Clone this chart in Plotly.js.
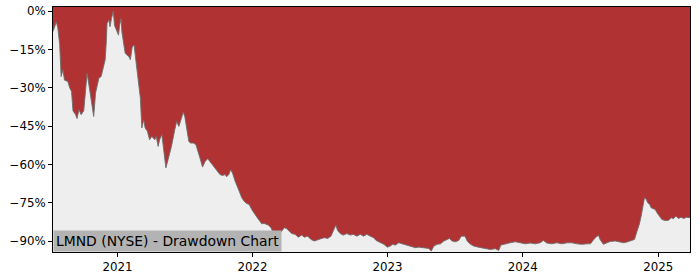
<!DOCTYPE html>
<html>
<head>
<meta charset="utf-8">
<script src="https://cdn.plot.ly/plotly-3.0.1.min.js"></script>
<style>html,body{margin:0;padding:0;background:#fff;}#chart{width:700px;height:280px;}</style>
</head>
<body>
<div id="chart"></div>
<script>
const dates = [
"2020-07-11","2020-07-20","2020-07-24","2020-07-29","2020-08-02","2020-08-07","2020-08-11","2020-08-20","2020-08-25","2020-08-30",
"2020-09-03","2020-09-10","2020-09-14","2020-09-19","2020-09-25","2020-10-02","2020-10-06","2020-10-11","2020-10-16","2020-10-22",
"2020-10-29","2020-11-03","2020-11-07","2020-11-12","2020-11-18","2020-11-25","2020-11-29","2020-12-02","2020-12-04","2020-12-09",
"2020-12-12","2020-12-16","2020-12-21","2020-12-24","2020-12-29","2021-01-04","2021-01-07","2021-01-11","2021-01-13","2021-01-18",
"2021-01-22","2021-01-27","2021-02-01","2021-02-05","2021-02-10","2021-02-15","2021-02-19","2021-02-25","2021-03-04","2021-03-08",
"2021-03-13","2021-03-17","2021-03-23","2021-03-29","2021-04-04","2021-04-12","2021-04-16","2021-04-21","2021-04-25","2021-05-01",
"2021-05-05","2021-05-12","2021-05-18","2021-05-27","2021-06-05","2021-06-10","2021-06-16","2021-06-22","2021-06-28","2021-07-02",
"2021-07-07","2021-07-13","2021-07-18","2021-07-25","2021-08-01","2021-08-06","2021-08-12","2021-08-19","2021-08-26","2021-09-02",
"2021-09-08","2021-09-15","2021-09-22","2021-09-28","2021-10-05","2021-10-12","2021-10-19","2021-10-23","2021-10-29","2021-11-03",
"2021-11-08","2021-11-15","2021-11-21","2021-11-26","2021-12-03","2021-12-09","2021-12-16","2021-12-23","2021-12-30","2022-01-05",
"2022-01-12","2022-01-19","2022-01-26","2022-02-01","2022-02-08","2022-02-13","2022-02-20","2022-02-26","2022-03-07","2022-03-14",
"2022-03-21","2022-03-28","2022-04-03","2022-04-10","2022-04-17","2022-04-26","2022-05-05","2022-05-14","2022-05-21","2022-05-30",
"2022-06-08","2022-06-17","2022-06-26","2022-07-05","2022-07-14","2022-07-23","2022-08-01","2022-08-07","2022-08-14","2022-08-19",
"2022-08-26","2022-09-03","2022-09-13","2022-09-22","2022-09-30","2022-10-10","2022-10-19","2022-10-28","2022-11-06","2022-11-15",
"2022-11-24","2022-12-01","2022-12-12","2022-12-22","2022-12-31","2023-01-08","2023-01-15","2023-01-22","2023-01-31","2023-02-09",
"2023-02-18","2023-02-27","2023-03-08","2023-03-17","2023-03-26","2023-04-04","2023-04-13","2023-04-22","2023-04-29","2023-05-06",
"2023-05-15","2023-05-24","2023-06-02","2023-06-11","2023-06-17","2023-06-24","2023-07-03","2023-07-12","2023-07-19","2023-07-29",
"2023-08-04","2023-08-13","2023-08-22","2023-09-03","2023-09-12","2023-09-22","2023-10-05","2023-10-19","2023-10-28","2023-11-03",
"2023-11-15","2023-11-28","2023-12-12","2023-12-26","2024-01-08","2024-01-21","2024-02-04","2024-02-17","2024-02-26","2024-03-06",
"2024-03-20","2024-04-02","2024-04-16","2024-04-30","2024-05-13","2024-05-26","2024-06-09","2024-06-23","2024-07-02","2024-07-10",
"2024-07-18","2024-07-24","2024-07-28","2024-08-06","2024-08-16","2024-08-24","2024-09-07","2024-09-21","2024-09-30","2024-10-09",
"2024-10-18","2024-10-29","2024-11-05","2024-11-11","2024-11-16","2024-11-21","2024-11-25","2024-11-30","2024-12-04","2024-12-09",
"2024-12-13","2024-12-19","2024-12-24","2024-12-29","2025-01-04","2025-01-11","2025-01-20","2025-01-29","2025-02-05","2025-02-11",
"2025-02-18","2025-02-25","2025-03-04","2025-03-11","2025-03-19","2025-03-28"
];
const drawdown = [
-8,-4.2,-6.6,-13,-25.6,-23,-27,-27.5,-30,-31.4,
-39,-40.5,-42,-38.6,-40.5,-39,-32.7,-24.3,-28.8,-34,
-41.2,-32,-28.8,-26.2,-25.6,-21,-19,-12,-4.8,-3.5,
-6.1,-2.9,0,-5.5,-7.4,-9.4,-5.5,-2.9,-8,-12,
-16.5,-17.2,-17.8,-19,-14,-13.3,-18.5,-27.5,-34,-45.7,
-42.5,-45.7,-47,-50.3,-49,-50.3,-49,-52.9,-50.3,-48.3,
-53.5,-61.3,-58,-52.9,-46.4,-43.2,-45.1,-42.5,-39.6,-41.2,
-45.1,-51,-51.6,-51.6,-52.2,-54.2,-57.4,-61,-58.8,-57.7,
-58.8,-60,-61.3,-62.6,-63.9,-64.3,-63.9,-64.8,-63.9,-62,
-63.3,-66.5,-69.1,-70.4,-73,-74.3,-75.2,-75.6,-77.6,-79.1,
-80.4,-81.8,-83.2,-83,-83.4,-83.7,-84.7,-86.7,-87.3,-87.5,
-86,-84.7,-85,-86,-87,-87.3,-88.4,-87.6,-88.4,-88,
-89.3,-89.9,-89.3,-89,-88.6,-88.9,-88,-86,-83.7,-85.8,
-87,-87.6,-87,-87.6,-87.3,-88,-87.3,-88,-87.3,-88,
-88.6,-89.7,-90.6,-91.2,-92.3,-91.9,-91.2,-91.5,-90.6,-91,
-91.2,-91.9,-92.3,-92.5,-92.3,-92.5,-92.8,-92.8,-93.8,-91.9,
-91.2,-91,-89.9,-89.3,-88.9,-89.9,-90.2,-89.7,-88,-88,
-89.9,-91.2,-91.9,-92.3,-92.5,-92.8,-93.2,-92.9,-93.6,-91.5,
-91.2,-90.6,-90.2,-90.6,-91,-90.7,-91,-90.6,-89.7,-90.7,
-91,-90.6,-91,-90.6,-90.6,-91,-91.2,-91,-91,-89.5,
-88.2,-87.7,-89.3,-91.2,-90.6,-90.1,-89.9,-90.3,-90.6,-90.3,
-89.9,-89.3,-86,-83.4,-80.2,-75.6,-73,-73.7,-75,-75.6,
-76.9,-77.3,-77.6,-78.9,-80.2,-81.5,-81.9,-81.8,-80.8,-81.2,
-80.2,-81.1,-80.6,-81.1,-80.6,-80.8
];
const yTickVals = [0,-15,-30,-45,-60,-75,-90];
const yTickText = ["0%","\u221215%","\u221230%","\u221245%","\u221260%","\u221275%","\u221290%"];
const chartLabel = "LMND (NYSE) - Drawdown Chart";

const yRange = [-94.2, 1.6];
const xRange = ["2020-07-11", "2025-03-28"];
const baseline = dates.map(() => yRange[0]);

const traces = [
  {x: dates, y: baseline, type: "scatter", mode: "lines", line: {width: 0, color: "rgba(0,0,0,0)"}, hoverinfo: "skip", showlegend: false},
  {x: dates, y: drawdown, type: "scatter", mode: "lines", fill: "tonexty", fillcolor: "#eeeeee",
   line: {color: "rgba(110,110,110,0.9)", width: 1}, showlegend: false}
];

const axisCommon = {
  showline: true, linecolor: "#000", linewidth: 1, mirror: true,
  ticks: "outside", ticklen: 4, tickcolor: "#000", showgrid: false, zeroline: false,
  tickfont: {family: "DejaVu Sans", size: 11.8, color: "#000"}
};

const layout = {
  width: 700, height: 280,
  margin: {l: 53, r: 10, t: 7, b: 28},
  paper_bgcolor: "#ffffff",
  plot_bgcolor: "#b03232",
  showlegend: false,
  xaxis: Object.assign({}, axisCommon, {type: "date", range: xRange, dtick: "M12", tick0: "2021-01-01", tickformat: "%Y"}),
  yaxis: Object.assign({}, axisCommon, {range: yRange, tickvals: yTickVals, ticktext: yTickText}),
  annotations: [{
    text: chartLabel, xref: "paper", yref: "paper", x: 0, y: 0, xanchor: "left", yanchor: "bottom",
    showarrow: false, bgcolor: "#b3b3b3", borderpad: 2,
    font: {family: "DejaVu Sans", size: 13.9, color: "#000"}
  }]
};

Plotly.newPlot("chart", traces, layout, {staticPlot: true, displayModeBar: false});
</script>
</body>
</html>
